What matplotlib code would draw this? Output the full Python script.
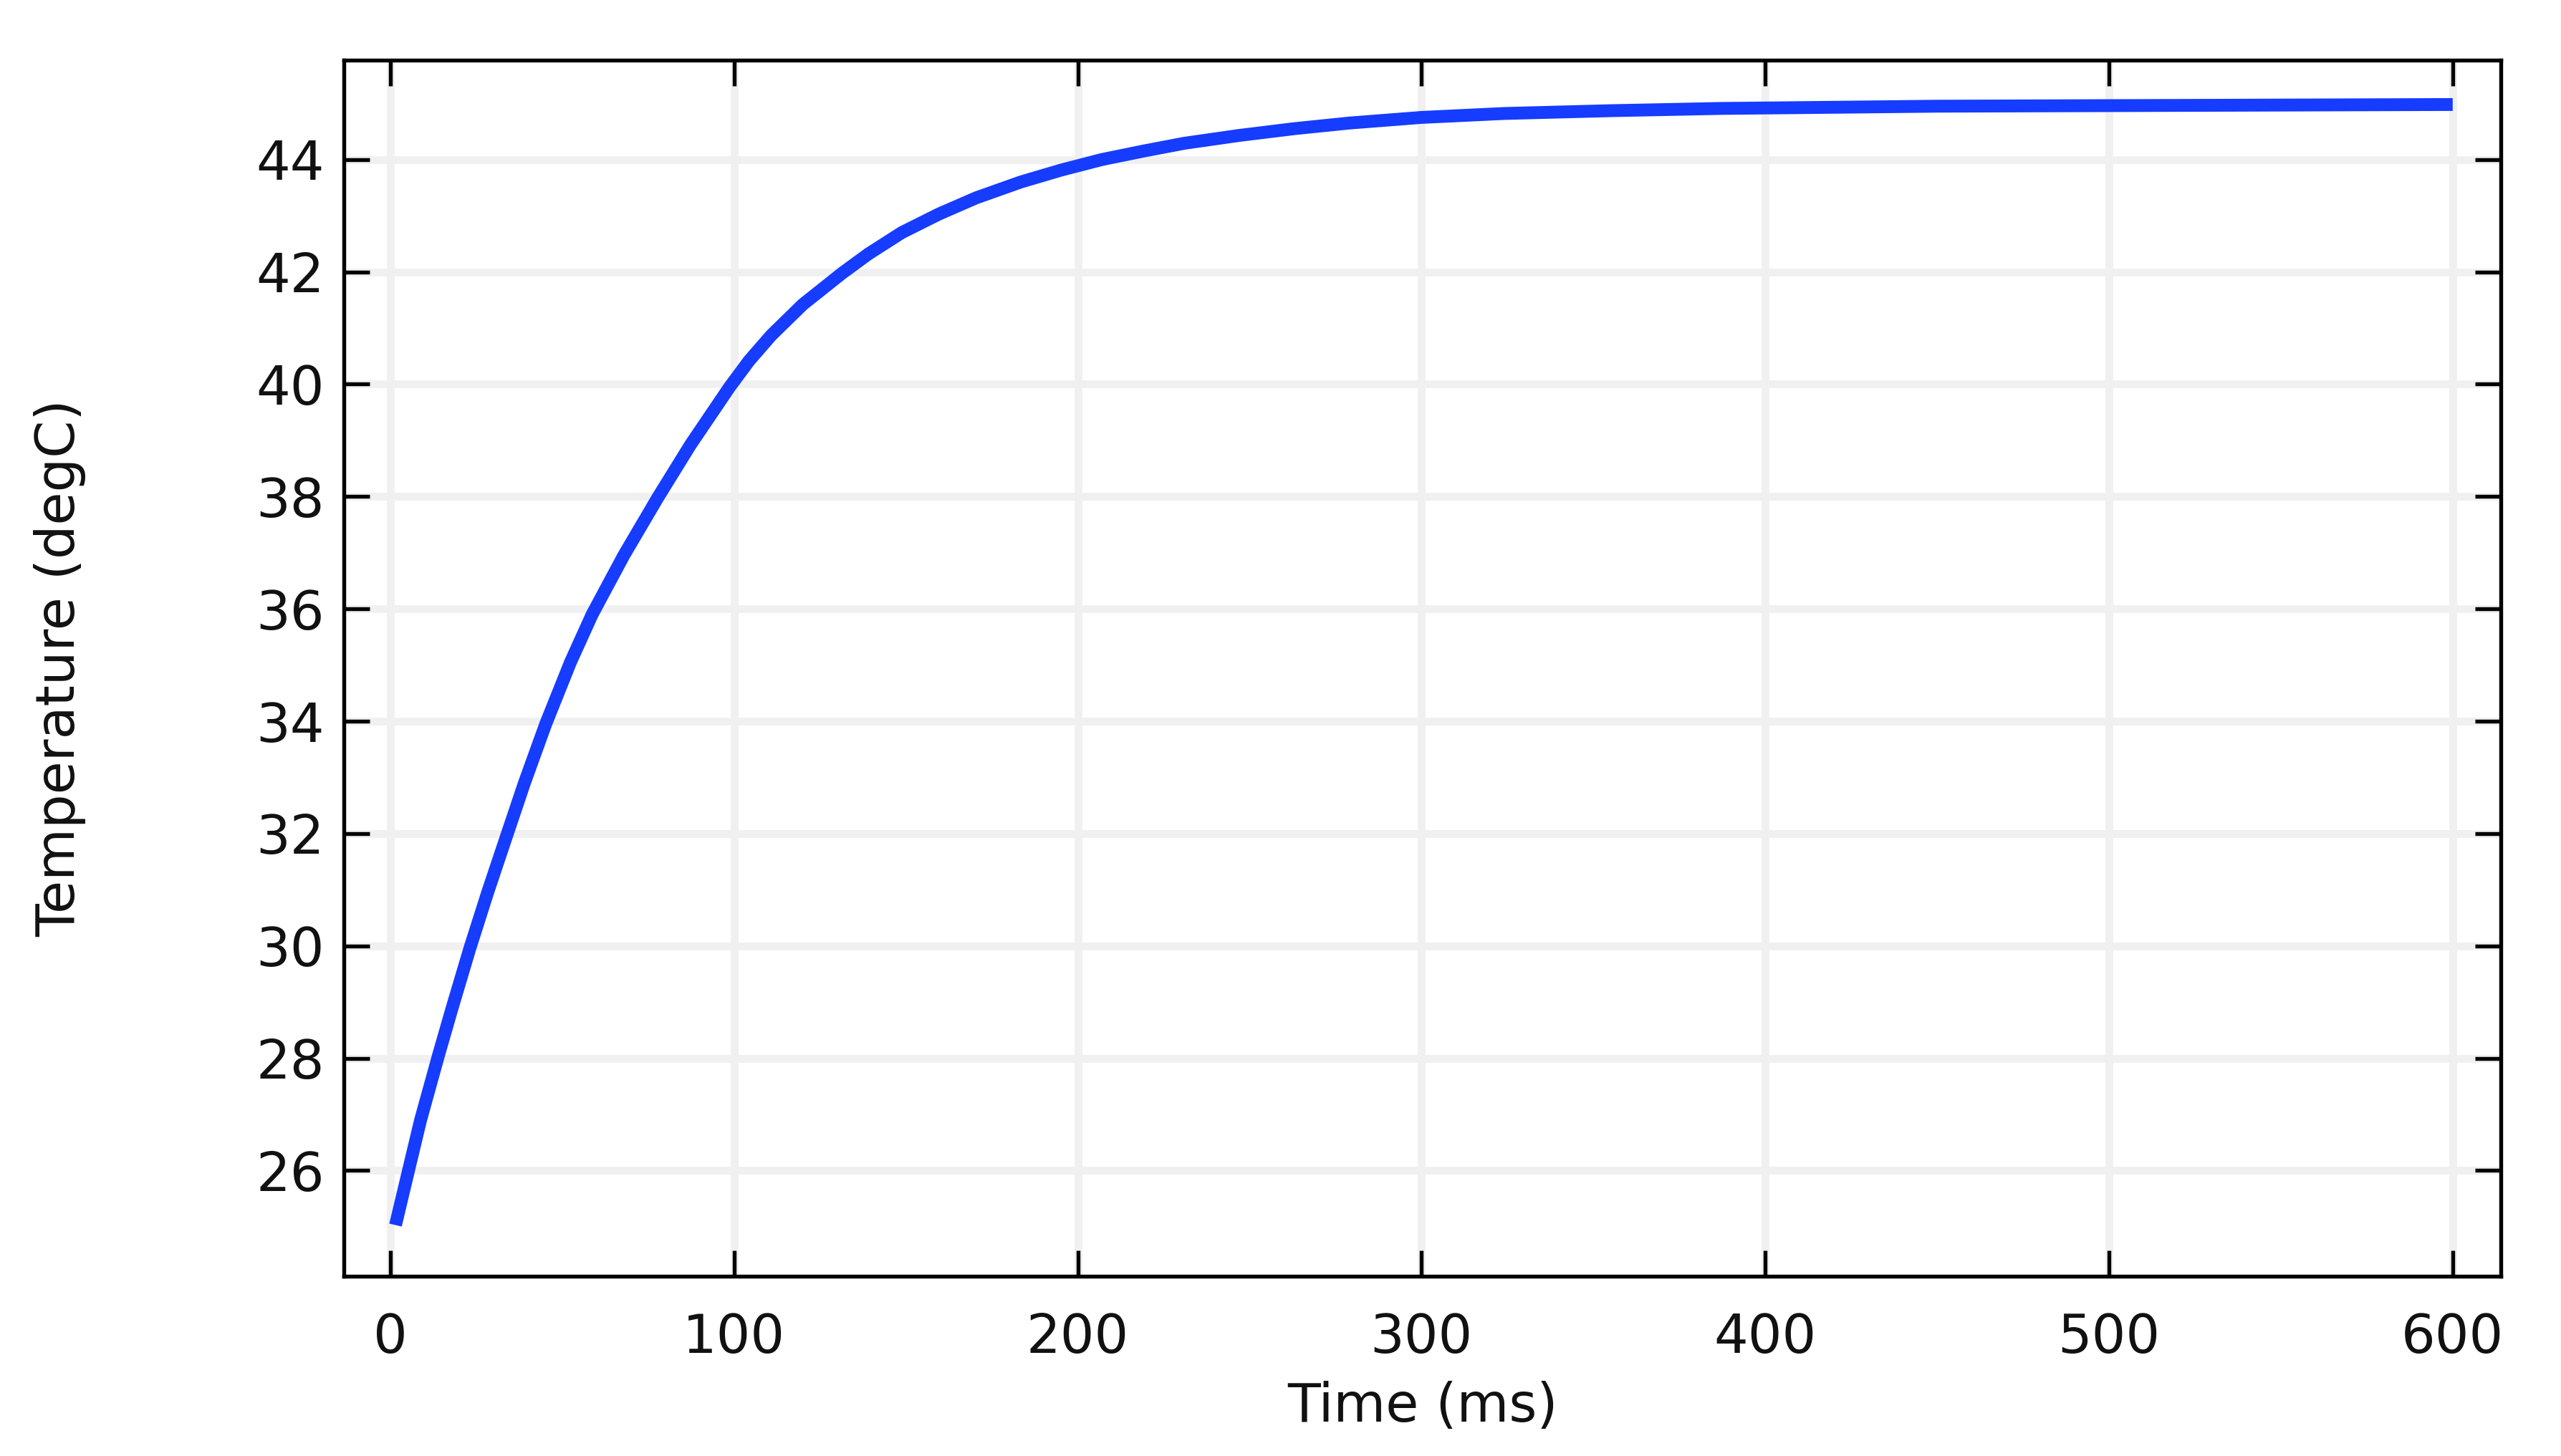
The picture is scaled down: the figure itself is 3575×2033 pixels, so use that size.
import matplotlib
matplotlib.use("Agg")
import matplotlib.pyplot as plt

# Temperature vs. time
time_ms = [1.5, 5.2, 8.8, 14.0, 18.0, 23.1, 28.3, 33.5, 39.0, 45.2, 52.4,
           58.7, 67.9, 77.8, 87.3, 98.7, 104.4, 110.8, 120.0, 131.5, 139.1,
           148.8, 159.6, 170.5, 183.4, 195.0, 207.0, 219.0, 231.0, 247.0,
           263.0, 279.0, 300.0, 324.0, 355.0, 387.0, 419.0, 450.0, 500.0,
           550.0, 600.0]
temp_degc = [25.03, 25.98, 26.9, 28.05, 28.9, 29.95, 30.95, 31.9, 32.9,
             33.95, 35.05, 35.9, 36.95, 37.98, 38.92, 39.95, 40.42, 40.87,
             41.42, 41.98, 42.32, 42.7, 43.03, 43.32, 43.6, 43.81, 44.0,
             44.15, 44.29, 44.43, 44.55, 44.65, 44.75, 44.82, 44.87, 44.91,
             44.93, 44.95, 44.96, 44.97, 44.98]

x_ticks = [0, 100, 200, 300, 400, 500, 600]
y_ticks = [26, 28, 30, 32, 34, 36, 38, 40, 42, 44]

DPI = 300
fig = plt.figure(figsize=(3575 / DPI, 2033 / DPI), dpi=DPI)
ax = fig.add_axes([0.1343, 0.1235, 0.9765 - 0.1343, 0.9587 - 0.1235])

ax.plot(time_ms, temp_degc, color="#163cff", linewidth=4.3,
        solid_capstyle="butt", solid_joinstyle="round", zorder=3)

ax.set_xlim(-13.5, 614)
ax.set_ylim(24.12, 45.77)
ax.set_xticks(x_ticks)
ax.set_yticks(y_ticks)

ax.grid(True, color="#f0f0f0", linewidth=2.6)
ax.set_axisbelow(True)

for sp in ax.spines.values():
    sp.set_linewidth(1.3)
    sp.set_color("black")

ax.tick_params(direction="in", length=8.6, width=1.3, color="black",
               top=True, right=True, labelsize=18, labelcolor="#111111")
ax.tick_params(axis="x", pad=12)
ax.tick_params(axis="y", pad=6.5)

ax.set_xlabel("Time (ms)", fontsize=18, color="#111111", labelpad=5.5)
ax.set_ylabel("Temperature (degC)", fontsize=18, color="#111111", labelpad=57)

fig.savefig("out.png", dpi=DPI, facecolor="white")
